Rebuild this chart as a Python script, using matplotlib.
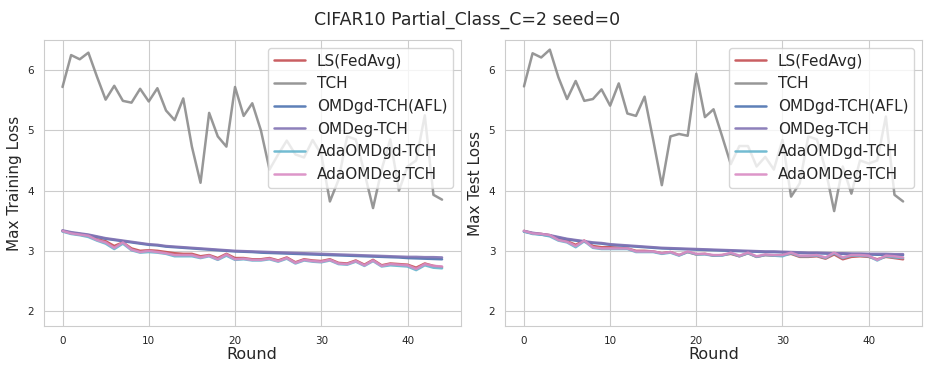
import numpy as np
import matplotlib
matplotlib.use("Agg")
import matplotlib.pyplot as plt
import seaborn as sns

sns.set_style("whitegrid")
plt.rcParams['font.family'] = ['DejaVu Sans']

rounds = list(range(45))
labels = ['LS(FedAvg)', 'TCH', 'OMDgd-TCH(AFL)', 'OMDeg-TCH', 'AdaOMDgd-TCH', 'AdaOMDeg-TCH']
colors = ['#C44E52', '#8C8C8C', '#4C72B0', '#8172B3', '#64B5CD', '#DA8BC3']

# ---- training loss (left) ----
train_tch = [5.72, 6.25, 6.18, 6.29, 5.89, 5.51, 5.74, 5.49, 5.46, 5.69,
             5.48, 5.70, 5.33, 5.17, 5.53, 4.73, 4.13, 5.29, 4.90, 4.73,
             5.72, 5.24, 5.45, 5.00, 4.35, 4.60, 4.83, 4.60, 4.55, 4.84,
             4.60, 3.82, 4.18, 4.90, 4.85, 4.30, 3.71, 4.35, 4.85, 4.00,
             4.40, 4.50, 5.25, 3.93, 3.85]
train_omdgd = [3.33, 3.30, 3.28, 3.26, 3.23, 3.20, 3.18, 3.16, 3.14, 3.12,
               3.10, 3.09, 3.07, 3.06, 3.05, 3.04, 3.03, 3.02, 3.01, 3.00,
               2.99, 2.985, 2.98, 2.97, 2.965, 2.96, 2.955, 2.95, 2.945, 2.94,
               2.935, 2.93, 2.925, 2.92, 2.915, 2.91, 2.905, 2.90, 2.895, 2.89,
               2.88, 2.875, 2.87, 2.865, 2.86]
train_omdeg = [3.34, 3.31, 3.29, 3.27, 3.24, 3.21, 3.19, 3.17, 3.15, 3.13,
               3.11, 3.10, 3.08, 3.07, 3.06, 3.05, 3.04, 3.03, 3.02, 3.01,
               3.00, 2.995, 2.99, 2.985, 2.98, 2.975, 2.97, 2.965, 2.96, 2.955,
               2.95, 2.945, 2.94, 2.935, 2.93, 2.925, 2.92, 2.915, 2.91, 2.905,
               2.90, 2.90, 2.895, 2.895, 2.89]
train_ls = [3.33, 3.29, 3.27, 3.25, 3.19, 3.16, 3.08, 3.14, 3.04, 3.00,
            3.01, 3.00, 2.98, 2.96, 2.95, 2.95, 2.91, 2.93, 2.88, 2.95,
            2.88, 2.88, 2.86, 2.86, 2.88, 2.84, 2.89, 2.81, 2.86, 2.84,
            2.83, 2.86, 2.80, 2.79, 2.84, 2.77, 2.85, 2.76, 2.79, 2.78,
            2.77, 2.72, 2.79, 2.75, 2.73]
train_adagd = [3.32, 3.28, 3.26, 3.23, 3.17, 3.12, 3.03, 3.12, 3.01, 2.97,
               2.98, 2.97, 2.95, 2.91, 2.91, 2.91, 2.88, 2.91, 2.85, 2.92,
               2.85, 2.86, 2.84, 2.84, 2.86, 2.82, 2.87, 2.79, 2.84, 2.82,
               2.81, 2.84, 2.78, 2.77, 2.82, 2.75, 2.83, 2.74, 2.76, 2.75,
               2.74, 2.68, 2.76, 2.72, 2.71]
train_adaeg = [3.33, 3.29, 3.27, 3.25, 3.18, 3.14, 3.05, 3.14, 3.02, 2.98,
               3.00, 2.98, 2.96, 2.93, 2.93, 2.93, 2.89, 2.92, 2.86, 2.94,
               2.86, 2.87, 2.85, 2.85, 2.87, 2.83, 2.88, 2.80, 2.85, 2.83,
               2.82, 2.85, 2.79, 2.78, 2.83, 2.76, 2.84, 2.75, 2.78, 2.77,
               2.76, 2.70, 2.78, 2.75, 2.74]

# ---- test loss (right) ----
test_tch = [5.73, 6.28, 6.21, 6.34, 5.88, 5.52, 5.82, 5.49, 5.52, 5.68,
            5.41, 5.78, 5.28, 5.24, 5.56, 4.84, 4.09, 4.90, 4.94, 4.91,
            5.94, 5.22, 5.35, 4.90, 4.44, 4.74, 4.74, 4.40, 4.56, 4.35,
            4.84, 3.90, 4.12, 4.90, 4.85, 4.35, 3.66, 4.40, 3.95, 4.50,
            4.45, 4.50, 5.23, 3.93, 3.82]
test_omdgd = [3.32, 3.29, 3.27, 3.25, 3.22, 3.19, 3.17, 3.15, 3.13, 3.12,
              3.10, 3.09, 3.08, 3.07, 3.06, 3.05, 3.04, 3.035, 3.03, 3.025,
              3.02, 3.015, 3.01, 3.005, 3.00, 2.995, 2.99, 2.985, 2.98, 2.98,
              2.975, 2.97, 2.965, 2.96, 2.96, 2.955, 2.95, 2.95, 2.945, 2.94,
              2.94, 2.935, 2.935, 2.93, 2.93]
test_omdeg = [3.33, 3.30, 3.28, 3.26, 3.23, 3.20, 3.18, 3.16, 3.14, 3.13,
              3.11, 3.10, 3.09, 3.08, 3.07, 3.06, 3.05, 3.045, 3.04, 3.035,
              3.03, 3.025, 3.02, 3.015, 3.01, 3.005, 3.00, 2.995, 2.99, 2.99,
              2.985, 2.98, 2.975, 2.97, 2.97, 2.965, 2.96, 2.96, 2.955, 2.955,
              2.95, 2.95, 2.95, 2.945, 2.945]
test_ls = [3.33, 3.29, 3.28, 3.26, 3.19, 3.16, 3.10, 3.17, 3.08, 3.06,
           3.06, 3.05, 3.04, 3.00, 3.00, 2.99, 2.96, 2.98, 2.93, 2.98,
           2.94, 2.95, 2.92, 2.93, 2.95, 2.91, 2.96, 2.90, 2.93, 2.92,
           2.93, 2.95, 2.90, 2.90, 2.91, 2.87, 2.94, 2.86, 2.90, 2.91,
           2.90, 2.86, 2.90, 2.88, 2.86]
test_adagd = [3.32, 3.28, 3.27, 3.24, 3.17, 3.14, 3.06, 3.16, 3.05, 3.03,
              3.03, 3.03, 3.03, 2.98, 2.98, 2.98, 2.95, 2.97, 2.92, 2.98,
              2.94, 2.94, 2.92, 2.92, 2.96, 2.91, 2.96, 2.90, 2.93, 2.92,
              2.91, 2.96, 2.91, 2.91, 2.92, 2.88, 2.96, 2.88, 2.92, 2.92,
              2.91, 2.84, 2.91, 2.89, 2.88]
test_adaeg = [3.33, 3.29, 3.28, 3.26, 3.18, 3.15, 3.08, 3.17, 3.06, 3.04,
              3.04, 3.04, 3.04, 2.99, 2.99, 2.99, 2.96, 2.98, 2.93, 2.99,
              2.95, 2.95, 2.93, 2.93, 2.97, 2.92, 2.97, 2.91, 2.94, 2.93,
              2.93, 2.97, 2.92, 2.92, 2.93, 2.89, 2.97, 2.89, 2.93, 2.93,
              2.92, 2.85, 2.92, 2.91, 2.89]

train_series = [train_ls, train_tch, train_omdgd, train_omdeg, train_adagd, train_adaeg]
test_series = [test_ls, test_tch, test_omdgd, test_omdeg, test_adagd, test_adaeg]

fig = plt.figure(figsize=(9.34, 3.74), dpi=100)
ax1 = fig.add_axes([0.0466, 0.128, 0.447, 0.765])
ax2 = fig.add_axes([0.5407, 0.128, 0.4465, 0.765])

for ax, series, ylab in [(ax1, train_series, 'Max Training Loss'),
                         (ax2, test_series, 'Max Test Loss')]:
    for vals, lab, col in zip(series, labels, colors):
        ax.plot(rounds, vals, color=col, label=lab, linewidth=1.8, alpha=0.9)
    ax.set_ylim(1.75, 6.5)
    ax.set_yticks([2, 3, 4, 5, 6])
    ax.set_xticks([0, 10, 20, 30, 40])
    ax.tick_params(labelsize=7.5)
    ax.set_xlabel('Round', fontsize=11.5, labelpad=1)
    ax.set_ylabel(ylab, fontsize=11)
    ax.legend(loc='upper right', fontsize=11)

fig.suptitle('CIFAR10 Partial_Class_C=2 seed=0', fontsize=12.5, y=0.97)

plt.savefig('out.png', dpi=100)
